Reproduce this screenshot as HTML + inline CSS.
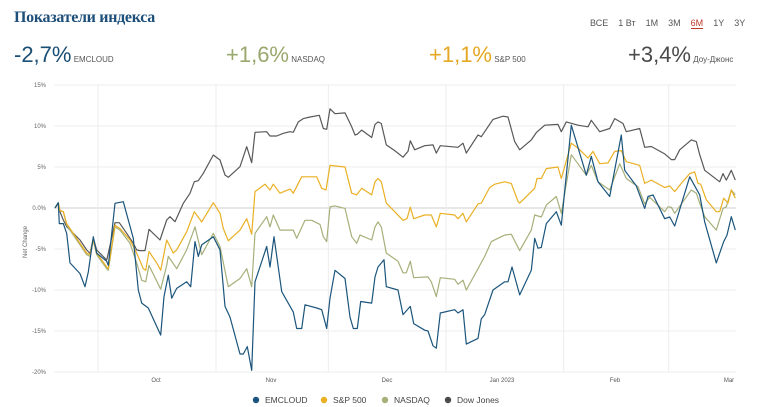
<!DOCTYPE html>
<html><head><meta charset="utf-8"><style>
body{margin:0;background:#fff;font-family:"Liberation Sans",sans-serif;}
#wrap{position:relative;width:758px;height:407px;overflow:hidden;}
.t{position:absolute;white-space:nowrap;}
</style></head><body>
<div id="wrap">
<div class="t" style="left:14px;top:9px;font-family:'Liberation Serif',serif;font-weight:bold;font-size:16px;color:#1d4f7a;letter-spacing:-0.3px">Показатели индекса</div>
<div class="t" style="left:590px;top:18px;font-size:9px;color:#555;">
<span>ВСЕ</span>&nbsp;&nbsp;&nbsp;
<span>1 Вт</span>&nbsp;&nbsp;&nbsp;
<span>1M</span>&nbsp;&nbsp;&nbsp;
<span>3M</span>&nbsp;&nbsp;&nbsp;
<span style="color:#c0392b;border-bottom:1px solid #c0392b">6M</span>&nbsp;&nbsp;&nbsp;
<span>1Y</span>&nbsp;&nbsp;&nbsp;
<span>3Y</span></div>
<div class="t" style="left:14px;top:42px;font-size:22px;color:#1a4e74">-2,7%<span style="font-size:8px;color:#555"> EMCLOUD</span></div>
<div class="t" style="left:226px;top:42px;font-size:22px;color:#9aa86e">+1,6%<span style="font-size:8px;color:#555"> NASDAQ</span></div>
<div class="t" style="left:429px;top:42px;font-size:22px;color:#e5a823">+1,1%<span style="font-size:8px;color:#555"> S&amp;P 500</span></div>
<div class="t" style="left:628px;top:42px;font-size:22px;color:#4a4a4a">+3,4%<span style="font-size:8px;color:#555"> Доу-Джонс</span></div>
<svg id="chart" width="758" height="407" style="position:absolute;left:0;top:0"></svg>
</div>
<script>
const yTicks=[15,10,5,0,-5,-10,-15,-20];
const yTickLabels=["15%","10%","5%","0.0%","-5%","-10%","-15%","-20%"];
const gridT=[294,648,985,1338,1691,2006];
const monthT=[468,813,1161,1506,1845,2187];
const monthLabels=["Oct","Nov","Dec","Jan 2023","Feb","Mar"];
const dowT=[165,175,180,190,200,220,240,260,270,280,290,300,320,325,345,358,380,400,410,420,435,447,480,500,510,525,550,570,583,595,610,640,660,675,685,720,740,755,765,800,810,830,850,870,880,895,910,930,958,970,980,990,1005,1035,1055,1065,1072,1085,1115,1125,1134,1144,1159,1184,1209,1224,1231,1244,1274,1299,1309,1321,1374,1389,1399,1434,1444,1479,1509,1524,1544,1559,1594,1609,1634,1674,1684,1699,1734,1764,1774,1799,1829,1844,1869,1879,1919,1934,1954,1994,2014,2024,2039,2074,2089,2099,2114,2159,2169,2179,2194,2206];
const dowV=[0,0.65,-0.45,-1.46,-2.28,-3.09,-3.9,-5.12,-5.53,-3.7,-5.12,-5.53,-6.34,-5.53,-1.79,-1.79,-3.09,-4.31,-5.12,-5.2,-5.2,-2.6,-3.9,-1.46,-1.06,-1.67,0.57,1.79,3.21,3.33,4.23,6.46,5.85,4.02,3.74,5.04,7.48,5.53,9.23,9.31,8.78,8.78,9.11,9.31,9.23,10.5,10.9,11.1,11.3,9.7,9.6,12.1,11.5,11.6,9.9,8.9,9.0,9.5,8.6,10.2,10.5,10.3,7.7,7.0,6.2,6.9,8.2,7.1,7.6,7.7,6.7,7.6,7.4,7.9,6.7,8.9,8.7,10.8,11.2,11.1,8.1,7.1,8.3,9.2,10.1,10.2,9.3,10.5,10.1,9.9,10.7,9.3,9.7,10.9,10.3,9.3,9.7,7.4,7.5,6.6,5.9,5.9,7.1,8.3,8.1,6.5,4.6,3.2,4.2,3.4,4.6,3.4];
const spT=[165,175,180,190,200,220,240,260,270,280,290,320,325,345,360,390,410,430,437,447,470,482,500,520,530,560,583,605,640,660,670,685,720,740,755,765,795,810,820,840,870,880,905,950,965,978,990,1035,1055,1070,1085,1115,1125,1134,1144,1159,1184,1209,1221,1231,1241,1274,1294,1309,1321,1364,1374,1389,1399,1434,1444,1469,1484,1514,1534,1554,1559,1604,1611,1624,1639,1674,1684,1714,1734,1764,1779,1799,1824,1844,1864,1879,1919,1934,1954,1994,2009,2024,2044,2069,2084,2094,2102,2119,2149,2159,2171,2184,2194,2206];
const spV=[0,0.6,-0.3,-0.45,-1.9,-3.1,-4.3,-5.5,-5.7,-3.9,-5.5,-7.2,-7.4,-2.1,-2.5,-3.9,-5.5,-7.4,-7.6,-5.3,-6.7,-7.6,-3.9,-5.5,-5.1,-2.9,-0.45,-1.7,0.65,-0.65,-2.5,-4.0,-2.7,-1.3,-3.2,2.0,2.9,2.2,2.9,1.8,2.3,1.8,3.8,3.8,2.4,2.2,5.2,5.0,1.8,1.6,2.4,1.6,3.2,3.6,3.2,0.6,-0.45,-1.5,-1.3,0.1,-1.3,-0.85,-0.85,-2.3,-0.65,-0.85,-1.3,-0.65,-1.7,0.5,0.6,2.5,2.9,3.2,3.0,0.8,0.6,2.4,3.6,3.6,4.8,5.0,3.6,7.9,7.3,6.1,6.9,5.4,5.5,6.9,7.0,5.65,5.2,3.0,3.4,2.5,2.7,2.0,3.0,4.2,4.4,3.0,2.9,1.0,-0.45,-0.45,1.2,0.6,2.2,1.2];
const ndqT=[165,175,180,190,200,220,240,260,270,280,290,320,325,345,360,390,410,425,437,447,482,500,505,530,560,585,605,640,660,685,720,740,755,765,800,810,820,840,880,890,915,935,960,970,980,990,1005,1035,1055,1070,1080,1115,1125,1134,1144,1159,1194,1209,1219,1231,1241,1284,1294,1309,1321,1364,1374,1389,1399,1434,1454,1474,1514,1534,1559,1594,1604,1624,1639,1669,1684,1714,1759,1774,1794,1829,1859,1879,1914,1934,1949,1994,2004,2014,2024,2074,2089,2099,2114,2149,2169,2179,2194,2206];
const ndqV=[0,0.5,-0.3,-0.45,-2.1,-3.3,-4.5,-5.7,-5.9,-3.9,-5.7,-7.4,-7.6,-2.3,-2.7,-4.3,-6.7,-8.8,-9.0,-7.0,-9.9,-7.0,-5.9,-7.4,-5.1,-2.3,-5.7,-3.1,-4.7,-9.6,-8.6,-7.4,-9.6,-3.1,-1.06,-2.3,-0.85,-2.7,-2.7,-3.7,-1.5,-1.5,-2.0,-3.5,-4.1,0.15,0.25,-0.05,-3.5,-4.3,-3.3,-3.9,-2.3,-1.7,-2.3,-5.5,-6.5,-7.9,-7.9,-6.5,-8.5,-8.4,-9.0,-10.8,-8.5,-8.7,-9.3,-8.8,-10.0,-7.4,-5.9,-4.1,-3.3,-3.2,-5.2,-2.7,-0.85,-1.1,0.35,1.4,-0.65,6.5,4.0,5.2,3.2,2.2,5.4,3.6,2.6,0.5,1.3,-0.45,0.15,0.1,-0.65,2.2,1.8,0.6,-1.06,-2.7,-0.05,0.15,2.2,1.6];
const emT=[165,175,178,190,200,210,240,255,265,280,290,320,325,345,370,400,415,425,445,482,492,505,515,530,560,572,585,595,605,640,660,675,690,720,730,742,755,765,800,810,822,845,880,890,905,915,950,965,980,990,1005,1035,1050,1060,1072,1082,1115,1125,1134,1152,1159,1194,1209,1231,1241,1274,1284,1299,1309,1321,1364,1374,1389,1399,1434,1444,1454,1479,1514,1524,1536,1559,1594,1604,1614,1624,1639,1669,1684,1714,1759,1774,1794,1829,1864,1874,1909,1934,1944,1959,1994,2009,2024,2069,2099,2114,2149,2171,2181,2194,2206];
const emV=[0,0.65,-1.9,-1.9,-3.1,-6.7,-8.0,-9.6,-7.8,-3.5,-5.5,-6.5,-7.0,0.57,0.77,-3.7,-10.0,-11.6,-12.2,-15.5,-10.8,-8.2,-11.0,-9.8,-9.0,-9.6,-4.1,-5.9,-4.5,-3.5,-5.1,-12.0,-13.3,-17.8,-17.8,-16.9,-19.8,-9.0,-4.7,-7.2,-3.5,-10.2,-12.7,-14.7,-14.7,-11.8,-12.2,-12.4,-14.7,-11.0,-7.6,-8.6,-13.3,-14.7,-14.7,-11.4,-11.6,-8.4,-7.2,-6.3,-9.6,-10.0,-13.0,-12.0,-14.1,-14.9,-15.0,-16.8,-17.1,-12.8,-12.4,-12.8,-12.4,-16.6,-15.9,-13.5,-13.0,-10.0,-9.0,-9.0,-7.2,-10.6,-7.6,-3.7,-4.9,-4.8,-1.9,-0.45,-2.1,10.1,4.0,6.3,3.2,1.4,8.9,4.6,2.7,-0.05,1.4,1.6,-1.3,-1.1,-2.2,3.8,1.6,-1.7,-6.7,-4.1,-3.3,-1.06,-2.7];

const svg=document.getElementById('chart');
const NS='http://www.w3.org/2000/svg';
const X0=54,X1=736,T0=162,T1=2208,Y0=85,Y1=372,V0=15,V1=-20;
const xs=t=>X0+(t-T0)/(T1-T0)*(X1-X0);
const ys=v=>Y0+(v-V0)/(V1-V0)*(Y1-Y0);
function mk(tag,attrs){const e=document.createElementNS(NS,tag);for(const k in attrs)e.setAttribute(k,attrs[k]);svg.appendChild(e);return e;}
yTicks.forEach((v,i)=>{
  const l=mk('line',{x1:X0,x2:X1,y1:ys(v),y2:ys(v),stroke:v===0?'#cfcfcf':'#ececec','stroke-width':1});
  
  
  const t=mk('text',{x:46,y:ys(v)+2,'text-anchor':'end','font-size':6,fill:'#666','font-family':'Liberation Sans, sans-serif'});
  t.textContent=yTickLabels[i];
  
  
});
gridT.forEach(g=>{
  const l=mk('line',{x1:xs(g),x2:xs(g),y1:Y0,y2:Y1,stroke:'#ececec','stroke-width':1});
  
  
});
monthT.forEach((m,i)=>{
  const t=mk('text',{x:xs(m),y:382,'text-anchor':'middle','font-size':6,fill:'#555','font-family':'Liberation Sans, sans-serif'});
  t.textContent=monthLabels[i];
  
  
});
const yt=mk('text',{x:0,y:0,'font-size':6,fill:'#666','text-anchor':'middle','font-family':'Liberation Sans, sans-serif',transform:'translate(27,242) rotate(-90)'});
yt.textContent='Net Change';


const series=[[dowT,dowV,'#585858','dow-jones-line'],[ndqT,ndqV,'#a6b07a','nasdaq-line'],[spT,spV,'#e9b024','sp500-line'],[emT,emV,'#1b557c','emcloud-line']];
series.forEach(s=>{
  const d=s[0].map((t,i)=>(i?'L':'M')+xs(t).toFixed(1)+','+ys(s[1][i]).toFixed(1)).join('');
  const p=mk('path',{d:d,fill:'none',stroke:s[2],'stroke-width':1.2,'stroke-linejoin':'round'});
  
  
});
const legend=[[256,'#1b557c','EMCLOUD'],[324,'#e9b024','S&P 500'],[385,'#a6b07a','NASDAQ'],[448,'#4a4a4a','Dow Jones']];
legend.forEach(l=>{
  const c=mk('circle',{cx:l[0],cy:400,r:3.2,fill:l[1]});
  
  
  const t=mk('text',{x:l[0]+9,y:403,'font-size':8.5,fill:'#444','font-family':'Liberation Sans, sans-serif'});
  t.textContent=l[2];
  
  
});
</script>
</body></html>
